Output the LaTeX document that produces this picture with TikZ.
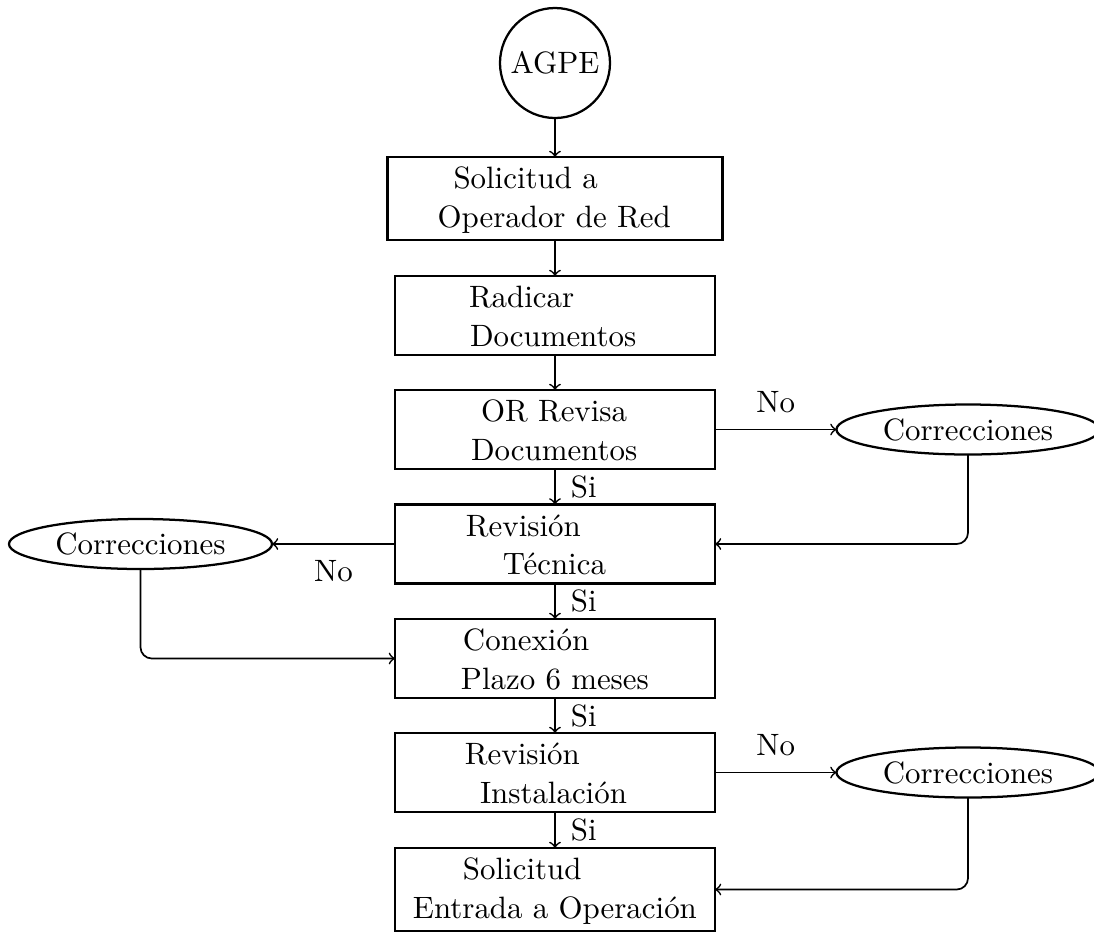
\documentclass[tikz,border=0pt]{standalone}
\usetikzlibrary{shapes.geometric}
\newdimen\pxu
\pxu=0.3544pt
\begin{document}
\begin{tikzpicture}[x=0.3544pt, y=-0.3544pt,
  font=\fontsize{10.95}{13.6}\selectfont,
  box/.style={draw, line width=0.8pt, rectangle, inner sep=0pt, outer sep=0pt,
    minimum width=320\pxu, minimum height=79\pxu},
  boxtext/.style={anchor=north west, inner sep=0pt, outer sep=0pt, align=left},
  start/.style={draw, circle, line width=0.8pt, inner sep=0pt, outer sep=0pt,
    minimum size=110\pxu},
  fix/.style={draw, ellipse, line width=0.8pt, inner sep=0pt, outer sep=0pt,
    minimum width=263\pxu, minimum height=50\pxu},
  arr/.style={->, line width=0.6pt},
  yes/.style={anchor=west, inner sep=0pt, xshift=15\pxu},
  noup/.style={anchor=south, inner sep=0pt, yshift=16\pxu},
  nodown/.style={anchor=north, inner sep=0pt, yshift=-15.5\pxu}]
\useasboundingbox (0,0) rectangle (1094,932);

% start and process boxes
\node[start] (s) at (555,63) {AGPE};
\node[box, minimum width=335\pxu, minimum height=83\pxu] (b1) at (555,198.5) {};
\node[box] (b2) at (555,315.5) {};
\node[box] (b3) at (555,429.5) {};
\node[box] (b4) at (555,544) {};
\node[box] (b5) at (555,658.5) {};
\node[box] (b6) at (555,772.5) {};
\node[box, minimum height=83\pxu] (b7) at (555,889.5) {};

% box captions
\node[boxtext] (t1) at ([yshift=-5.1\pxu]b1.north west)
  {\strut\hspace*{66\pxu}Solicitud a\\\hspace*{50\pxu}Operador de Red};
\node[boxtext] (t2) at ([yshift=-5.1\pxu]b2.north west)
  {\strut\hspace*{74\pxu}Radicar\\\hspace*{75\pxu}Documentos};
\node[boxtext] (t3) at ([yshift=-5.1\pxu]b3.north west)
  {\strut\hspace*{86\pxu}OR Revisa\\\hspace*{76\pxu}Documentos};
\node[boxtext] (t4) at ([yshift=-5.1\pxu]b4.north west)
  {\strut\hspace*{71\pxu}Revisión\\\hspace*{108\pxu}Técnica};
\node[boxtext] (t5) at ([yshift=-5.1\pxu]b5.north west)
  {\strut\hspace*{68\pxu}Conexión\\\hspace*{66\pxu}Plazo 6 meses};
\node[boxtext] (t6) at ([yshift=-5.1\pxu]b6.north west)
  {\strut\hspace*{70\pxu}Revisión\\\hspace*{85\pxu}Instalación};
\node[boxtext] (t7) at ([yshift=-5.1\pxu]b7.north west)
  {\strut\hspace*{68\pxu}Solicitud\\\hspace*{18\pxu}Entrada a Operación};

% correction loops
\node[fix] (c1) at (968,429.5) {Correcciones};
\node[fix] (c2) at (140.5,544) {Correcciones};
\node[fix] (c3) at (968,772.5) {Correcciones};

% main flow
\draw[arr] (s.south) -- (b1.north);
\draw[arr] (b1.south) -- (b2.north);
\draw[arr] (b2.south) -- (b3.north);
\draw[arr] (b3.south) -- node[yes] {Si} (b4.north);
\draw[arr] (b4.south) -- node[yes] {Si} (b5.north);
\draw[arr] (b5.south) -- node[yes] {Si} (b6.north);
\draw[arr] (b6.south) -- node[yes] {Si} (b7.north);

% rejections and returns
\draw[arr] (b3.east) -- node[noup] {No} (c1.west);
\draw[arr, rounded corners] (c1.south) |- (b4.east);
\draw[arr] (b4.west) -- node[nodown] {No} (c2.east);
\draw[arr, rounded corners] (c2.south) |- (b5.west);
\draw[arr] (b6.east) -- node[noup] {No} (c3.west);
\draw[arr, rounded corners] (c3.south) |- (b7.east);
\end{tikzpicture}
\end{document}
